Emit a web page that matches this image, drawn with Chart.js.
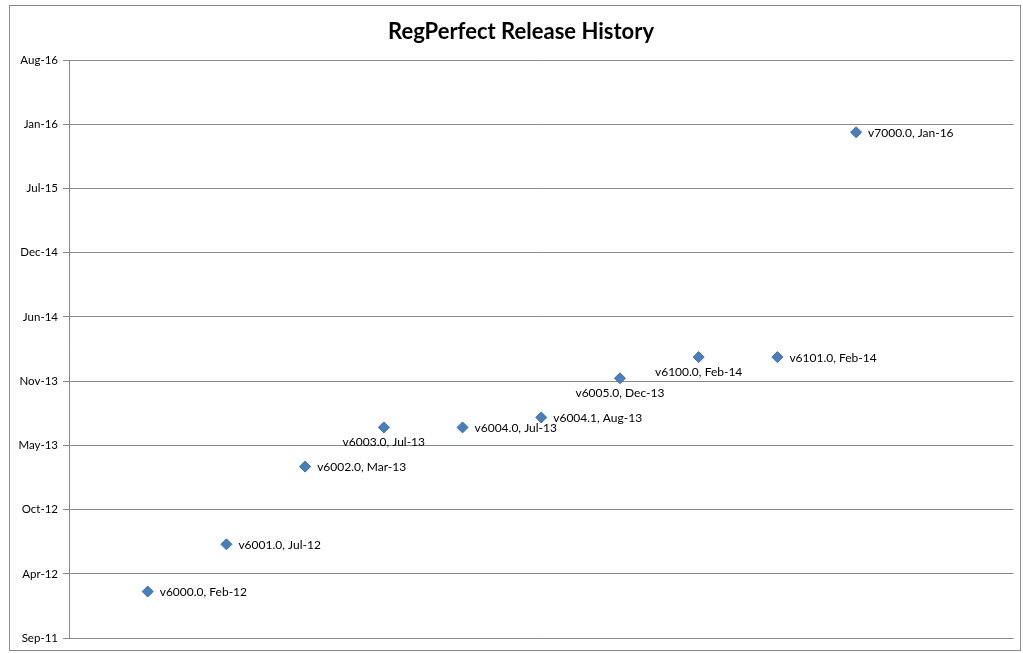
<!DOCTYPE html>
<html>
<head>
<meta charset="utf-8">
<script src="https://cdn.jsdelivr.net/npm/chart.js@4/dist/chart.umd.min.js"></script>
<style>
  body { margin: 0; background: #fff; }
  #frame { position: absolute; left: 9px; top: 5px; width: 1010px; height: 644px; border: 1px solid #8c8c8c; }
  canvas { display: block; }
</style>
</head>
<body>
<div id="frame"><canvas id="chart" width="1010" height="644"></canvas></div>
<script>
// release data
const versions = ['v6000.0', 'v6001.0', 'v6002.0', 'v6003.0', 'v6004.0', 'v6004.1', 'v6005.0', 'v6100.0', 'v6101.0', 'v7000.0'];
const releaseDates = ['2012-02-06', '2012-07-02', '2013-03-01', '2013-07-01', '2013-07-01', '2013-08-01', '2013-12-01', '2014-02-05', '2014-02-05', '2016-01-06'];
// labels that sit under the marker instead of to its right
const labelBelow = [false, false, false, true, false, false, true, true, false, false];
const axisMin = 40800, axisMax = 42600, axisStep = 200; // Excel serial days
const chartTitle = 'RegPerfect Release History';

const monthNames = ['Jan', 'Feb', 'Mar', 'Apr', 'May', 'Jun', 'Jul', 'Aug', 'Sep', 'Oct', 'Nov', 'Dec'];
const excelEpoch = Date.UTC(1899, 11, 30);

// Excel-style serial number from 'yyyy-mm-dd'
function toSerial(s) {
    const p = s.split('-').map(Number);
    return Math.round((Date.UTC(p[0], p[1] - 1, p[2]) - excelEpoch) / 86400000);
}

function formatSerial(v) {
    const d = new Date(excelEpoch + v * 86400000);
    return monthNames[d.getUTCMonth()] + '-' + String(d.getUTCFullYear()).slice(2);
}

const points = versions.map((v, i) => ({ x: i + 1, y: toSerial(releaseDates[i]) }));

// draws "version, Mon-YY" next to each marker, plus the title (Excel puts it a bit right of centre)
const pointLabels = {
    id: 'pointLabels',
    afterDatasetsDraw(chart) {
        const ctx = chart.ctx;
        const meta = chart.getDatasetMeta(0);
        ctx.save();
        ctx.fillStyle = '#000';
        ctx.textBaseline = 'middle';
        ctx.textAlign = 'center';
        ctx.font = 'bold 22px Lato, "Open Sans", sans-serif';
        ctx.fillText(chartTitle, chart.width / 2 + 6, 26);

        ctx.font = '12px Lato, "Open Sans", sans-serif';
        meta.data.forEach((el, i) => {
            const text = versions[i] + ', ' + formatSerial(points[i].y);
            if (labelBelow[i]) {
                ctx.textAlign = 'center';
                ctx.fillText(text, el.x, el.y + 15);
            } else {
                ctx.textAlign = 'left';
                ctx.fillText(text, el.x + 12, el.y + 1);
            }
        });
        ctx.restore();
    }
};

new Chart(document.getElementById('chart'), {
    type: 'scatter',
    data: {
        datasets: [{
            data: points,
            pointStyle: 'rectRot',
            pointRadius: 5.5,
            pointHoverRadius: 5.5,
            backgroundColor: '#4a7ebb',
            borderColor: '#3d6ea8',
            borderWidth: 1
        }]
    },
    options: {
        responsive: false,
        animation: false,
        layout: { padding: { left: 0, right: 3, top: 54, bottom: 6 } },
        plugins: {
            legend: { display: false },
            tooltip: { enabled: false },
            title: { display: false }
        },
        scales: {
            x: {
                type: 'linear',
                display: false,
                min: 0,
                max: 12
            },
            y: {
                type: 'linear',
                min: axisMin,
                max: axisMax,
                afterBuildTicks(axis) {
                    const t = [];
                    for (let v = axisMin; v <= axisMax; v += axisStep) t.push({ value: v });
                    axis.ticks = t;
                },
                afterFit(axis) { axis.width = 59; },
                ticks: {
                    color: '#000',
                    font: { family: 'Lato, "Open Sans", sans-serif', size: 11.5 },
                    padding: 5,
                    callback: v => formatSerial(v)
                },
                grid: { color: '#8a8a8a', tickLength: 6, drawTicks: true },
                border: { color: '#8a8a8a', width: 1 }
            }
        }
    },
    plugins: [pointLabels]
});
</script>
</body>
</html>
